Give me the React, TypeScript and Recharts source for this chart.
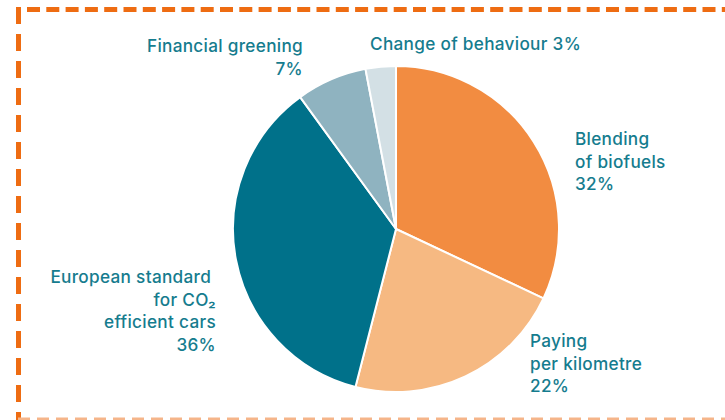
import { PieChart, Pie, Cell } from 'recharts';

const categories = ['Blending of biofuels', 'Paying per kilometre', 'European standard for CO₂ efficient cars', 'Financial greening', 'Change of behaviour'];
const shares = [32, 22, 36, 7, 3];
const labelLines = [
  ['Blending', 'of biofuels', '32%'],
  ['Paying', 'per kilometre', '22%'],
  ['European standard\u00A0', 'for CO₂', 'efficient cars', '36%'],
  ['Financial greening', '7%'],
  ['Change of behaviour 3%'],
];
const colors = ['#F28C41', '#F6B982', '#00718A', '#8FB3C0', '#D3E0E5'];

// label placement relative to pie centre
const labelPos = [
  { dx: 179, dy: -84, anchor: 'start' },
  { dx: 134, dy: 118, anchor: 'start' },
  { dx: -180, dy: 54, anchor: 'end' },
  { dx: -93, dy: -177, anchor: 'end' },
  { dx: -26, dy: -179, anchor: 'start' },
];

const data = categories.map((name, i) => ({ name, value: shares[i] }));
const TEXT = '#157C8E';

function renderLabel(props: any) {
  const { cx, cy, index } = props;
  const p = labelPos[index];
  return (
    <text
      key={index}
      x={cx + p.dx}
      y={cy + p.dy}
      textAnchor={p.anchor}
      fill={TEXT}
      fontSize={17.2}
      fontWeight={500}
      letterSpacing={0.3}
      fontFamily="Inter, sans-serif"
    >
      {labelLines[index].map((line, j) => (
        <tspan key={j} x={cx + p.dx} dy={j === 0 ? 0 : 22.5}>{line}</tspan>
      ))}
    </text>
  );
}

export default function App() {
  return (
    <div style={{ position: 'absolute', left: 0, top: 0, width: 725, height: 420, background: '#fff', overflow: 'hidden' }}>
      <svg width={725} height={420} style={{ position: 'absolute', left: 0, top: 0 }}>
        <line x1={18} y1={9.5} x2={725} y2={9.5} stroke="#EE6C12" strokeWidth={5} strokeDasharray="13 6.3" strokeDashoffset={-9} />
        <line x1={18.5} y1={7} x2={18.5} y2={420} stroke="#EE6C12" strokeWidth={5} strokeDasharray="17 10" />
        <line x1={18} y1={419} x2={725} y2={419} stroke="#F5B58A" strokeWidth={3} strokeDasharray="12 7" />
      </svg>
      <div style={{ position: 'absolute', left: 0, top: 0 }}>
        <PieChart width={725} height={420} margin={{ top: 0, right: 0, bottom: 0, left: 0 }}>
          <Pie
            data={data}
            dataKey="value"
            nameKey="name"
            cx={396}
            cy={229}
            outerRadius={163}
            startAngle={90}
            endAngle={-270}
            stroke="#fff"
            strokeWidth={2}
            label={renderLabel}
            labelLine={false}
            isAnimationActive={false}
          >
            {data.map((d, i) => (
              <Cell key={d.name} fill={colors[i]} />
            ))}
          </Pie>
        </PieChart>
      </div>
    </div>
  );
}
